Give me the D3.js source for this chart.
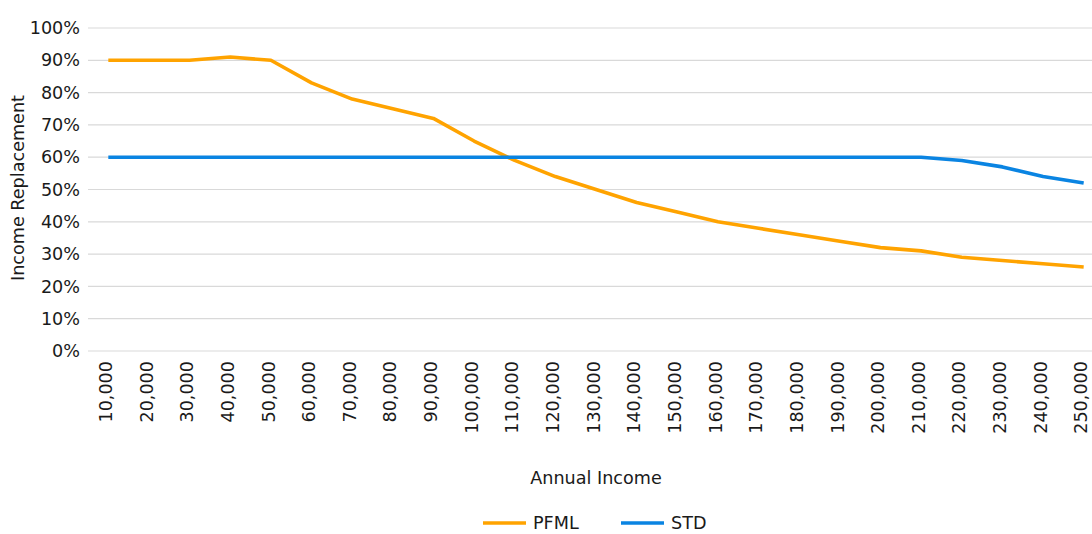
<!DOCTYPE html>
<html><head><meta charset="utf-8">
<script src="https://cdn.jsdelivr.net/npm/d3@7"></script>
<style>body{margin:0;background:#fff;} svg{display:block;font-family:"DejaVu Sans",sans-serif;}</style>
</head><body>
<svg id="c" width="1092" height="534"></svg>
<script>
const categories = ["10,000","20,000","30,000","40,000","50,000","60,000","70,000","80,000","90,000","100,000","110,000","120,000","130,000","140,000","150,000","160,000","170,000","180,000","190,000","200,000","210,000","220,000","230,000","240,000","250,000"];
const pfml = [90,90,90,91,90,83,78,75,72,65,59,54,50,46,43,40,38,36,34,32,31,29,28,27,26];
const std  = [60,60,60,60,60,60,60,60,60,60,60,60,60,60,60,60,60,60,60,60,60,59,57,54,52];
const yTicks = [0,10,20,30,40,50,60,70,80,90,100];
const seriesNames = ["PFML","STD"];
const colors = ["#FFA300","#0A84E2"];
const FS = 17.6;

const svg = d3.select("#c");
const x = d3.scalePoint().domain(categories).range([88,1104]).padding(0.5);
const y = d3.scaleLinear().domain([0,100]).range([351,28]);

// grid
svg.append("g").selectAll("line").data(yTicks).join("line")
  .attr("x1",88).attr("x2",1092).attr("y1",d=>y(d)).attr("y2",d=>y(d))
  .attr("stroke","#d9d9d9").attr("stroke-width",1.2);

// y axis labels
const yAxis = d3.axisLeft(y).tickValues(yTicks).tickFormat(d=>d+"%").tickSize(0).tickPadding(0);
const yg = svg.append("g").attr("transform","translate(80,0)").call(yAxis);
yg.select(".domain").remove();
yg.selectAll("text").attr("font-size",FS).attr("fill","#1a1a1a").attr("font-family","DejaVu Sans");

// x axis labels
const xAxis = d3.axisBottom(x).tickSize(0).tickPadding(0);
const xg = svg.append("g").attr("transform","translate(0,361)").call(xAxis);
xg.select(".domain").remove();
xg.selectAll("text").attr("font-size",FS).attr("fill","#1a1a1a").attr("font-family","DejaVu Sans")
  .attr("text-anchor","end").attr("dy","0.18em").attr("transform","rotate(-90)").attr("x",0).attr("y",0);

// lines
const line = d3.line().x((d,i)=>x(categories[i])).y(d=>y(d));
[pfml,std].forEach((s,k)=>{
  svg.append("path").datum(s).attr("d",line).attr("fill","none")
    .attr("stroke",colors[k]).attr("stroke-width",3.6).attr("stroke-linejoin","round");
});

// axis titles
svg.append("text").attr("transform","translate(18,188) rotate(-90)").attr("text-anchor","middle")
  .attr("dy","0.35em").attr("font-size",FS).attr("fill","#1a1a1a").text("Income Replacement");
svg.append("text").attr("x",596).attr("y",484).attr("text-anchor","middle")
  .attr("font-size",FS).attr("fill","#1a1a1a").text("Annual Income");

// legend
const lg = svg.append("g");
const lx = [483,621];
seriesNames.forEach((n,k)=>{
  lg.append("line").attr("x1",lx[k]).attr("x2",lx[k]+43).attr("y1",523).attr("y2",523)
    .attr("stroke",colors[k]).attr("stroke-width",3.6);
  lg.append("text").attr("x",lx[k]+50).attr("y",529).attr("font-size",FS).attr("fill","#1a1a1a").text(n);
});
</script>
</body></html>
